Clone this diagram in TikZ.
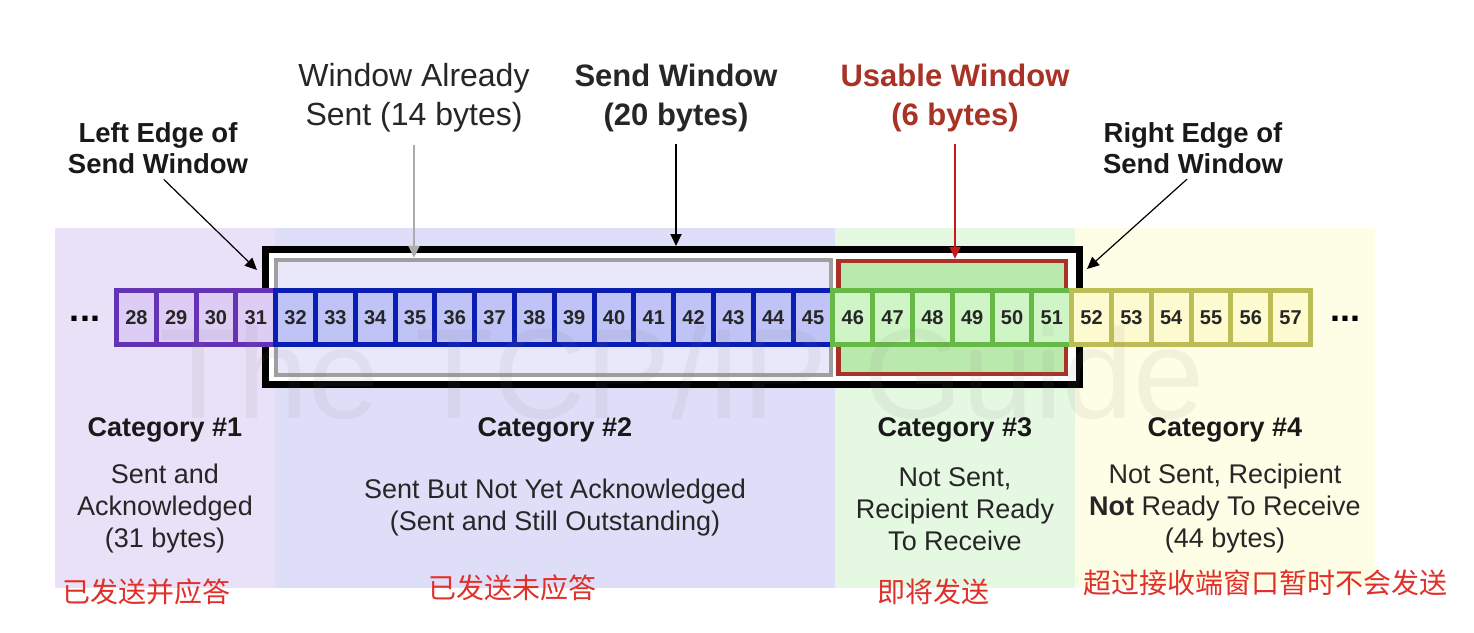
\documentclass[tikz,border=0pt]{standalone}
\usepackage{fontspec}
\setmainfont{Liberation Sans}
\newfontfamily\cjk{Noto Sans CJK SC}
\usetikzlibrary{arrows.meta,positioning}
\definecolor{ackband}{HTML}{E9E1F8}
\definecolor{outband}{HTML}{DEDEF8}
\definecolor{useband}{HTML}{E5F8E2}
\definecolor{waitband}{HTML}{FEFEE6}
\definecolor{ackline}{HTML}{6432B4}
\definecolor{ackfill}{HTML}{DDCDF5}
\definecolor{outline}{HTML}{0A1EB4}
\definecolor{outfill}{HTML}{BFC3F5}
\definecolor{useline}{HTML}{66B947}
\definecolor{usefill}{HTML}{CFF5C6}
\definecolor{waitline}{HTML}{BDBD55}
\definecolor{waitfill}{HTML}{FFFBD0}
\definecolor{usered}{HTML}{A83225}
\definecolor{cnred}{HTML}{E0302A}
\newcommand{\cellw}{39.8}
\tikzset{
    cellsty/.style={draw,rectangle,line width=5pt,minimum width=\cellw pt,minimum height=54pt,inner sep=0pt,
      font=\fontsize{20}{20}\selectfont\bfseries,text=black!85},
    ackcsty/.style={cellsty,draw=ackline,fill=ackfill},
    outcsty/.style={cellsty,draw=outline,fill=outfill},
    usecsty/.style={cellsty,draw=useline,fill=usefill},
    waitcsty/.style={cellsty,draw=waitline,fill=waitfill},
    topsty/.style={align=center,inner sep=0pt,font=\fontsize{32}{39}\selectfont,text=black!85},
    edgesty/.style={align=center,inner sep=0pt,font=\fontsize{27.5}{31}\selectfont\bfseries,text=black!90},
    catsty/.style={inner sep=0pt,font=\fontsize{27}{31}\selectfont\bfseries,text=black!90},
    descsty/.style={align=center,inner sep=0pt,font=\fontsize{27}{32}\selectfont,text=black!85},
    cnsty/.style={inner sep=0pt,font=\fontsize{28}{28}\selectfont\cjk,text=cnred},
    dotsty/.style={anchor=base,inner sep=0pt,font=\fontsize{36}{36}\selectfont\bfseries},
    wmsty/.style={anchor=base,inner sep=0pt,font=\fontsize{128}{128}\selectfont,text=gray,opacity=0.09},
}
\begin{document}
\begin{tikzpicture}[x=1pt,y=-1pt,>={Triangle[length=12pt,width=11pt]}]
\useasboundingbox[fill=white] (0,0) rectangle (1474,632);

% bands behind each category
\fill[ackband] (55,228) rectangle (275,588);
\fill[outband] (275,228) rectangle (835,588);
\fill[useband] (835,228) rectangle (1075,588);
\fill[waitband] (1075,228) rectangle (1375,588);

% windows
\node (sendwin) [draw,line width=7pt,fill=white,minimum width=813.5pt,minimum height=135pt,inner sep=0pt]
  at (672.25,317) {};
\node (sentwin) [draw=gray!75,line width=4.5pt,fill=outband!70!white,minimum width=555pt,minimum height=115pt,inner sep=0pt]
  at (553.5,317.5) {};
\node (usewin) [draw=usered,line width=4.5pt,fill=usefill!80!useline,minimum width=227.5pt,minimum height=113pt,inner sep=0pt]
  at (952.25,317.5) {};

% byte cells
\foreach \n [evaluate=\n as \x using 136.4+\cellw*(\n-28)] in {28,...,31}
  \node[ackcsty] (c\n) at (\x,317.5) {\n};
\foreach \n [evaluate=\n as \x using 136.4+\cellw*(\n-28)] in {32,...,45}
  \node[outcsty] (c\n) at (\x,317.5) {\n};
\foreach \n [evaluate=\n as \x using 136.4+\cellw*(\n-28)] in {46,...,51}
  \node[usecsty] (c\n) at (\x,317.5) {\n};
\foreach \n [evaluate=\n as \x using 136.4+\cellw*(\n-28)] in {52,...,57}
  \node[waitcsty] (c\n) at (\x,317.5) {\n};

\node[dotsty] (ldots) at (85,321) {...};
\node[dotsty] (rdots) at (1345,321) {...};

% watermark
\node[wmsty] (wmark) at (682,418) {The TCP/IP Guide};

% labels above
\node[topsty] (wsent) at (414,98) {Window Already\\Sent (14 bytes)};
\node[topsty,font=\fontsize{31}{39}\selectfont\bfseries] (wsend) at (676,98) {Send Window\\(20 bytes)};
\node[topsty,font=\fontsize{31}{39}\selectfont\bfseries,text=usered] (wuse) at (955,98) {Usable Window\\(6 bytes)};
\node[edgesty] (ledge) at (158,148) {Left Edge of\\Send Window};
\node[edgesty] (redge) at (1193,148) {Right Edge of\\Send Window};

\coordinate (ltip) at (257,270);
\coordinate (rtip) at (1087,269);

\draw[->,gray!65,line width=1.8pt,shorten <=12pt] (wsent.south) -- (wsent.south |- sentwin.north);
\draw[->,black,line width=1.8pt,shorten <=12pt] (wsend.south) -- (wsend.south |- sendwin.north);
\draw[->,red!75!black!90,line width=1.8pt,shorten <=12pt] (wuse.south) -- (wuse.south |- usewin.north);
\draw[->,line width=1.2pt,shorten <=8pt] (ledge.south) -- (ltip);
\draw[->,line width=1.2pt,shorten <=8pt] (redge.south) -- (rtip);

% category texts
\node[catsty] (cat1) at (165,430) {Category \#1};
\node[catsty] (cat2) at (555,430) {Category \#2};
\node[catsty] (cat3) at (955,430) {Category \#3};
\node[catsty] (cat4) at (1225,430) {Category \#4};

\node[descsty] (desc1) at (165,509) {Sent and\\Acknowledged\\(31 bytes)};
\node[descsty] (desc2) at (555,508) {Sent But Not Yet Acknowledged\\(Sent and Still Outstanding)};
\node[descsty] (desc3) at (955,509) {Not Sent,\\Recipient Ready\\To Receive};
\node[descsty] (desc4) at (1225,509) {Not Sent, Recipient\\\textbf{Not} Ready To Receive\\(44 bytes)};

\node[cnsty] (cn1) at (146,592) {已发送并应答};
\node[cnsty] (cn2) at (512,588) {已发送未应答};
\node[cnsty] (cn3) at (933,592) {即将发送};
\node[cnsty] (cn4) at (1265,583) {超过接收端窗口暂时不会发送};
\end{tikzpicture}
\end{document}
